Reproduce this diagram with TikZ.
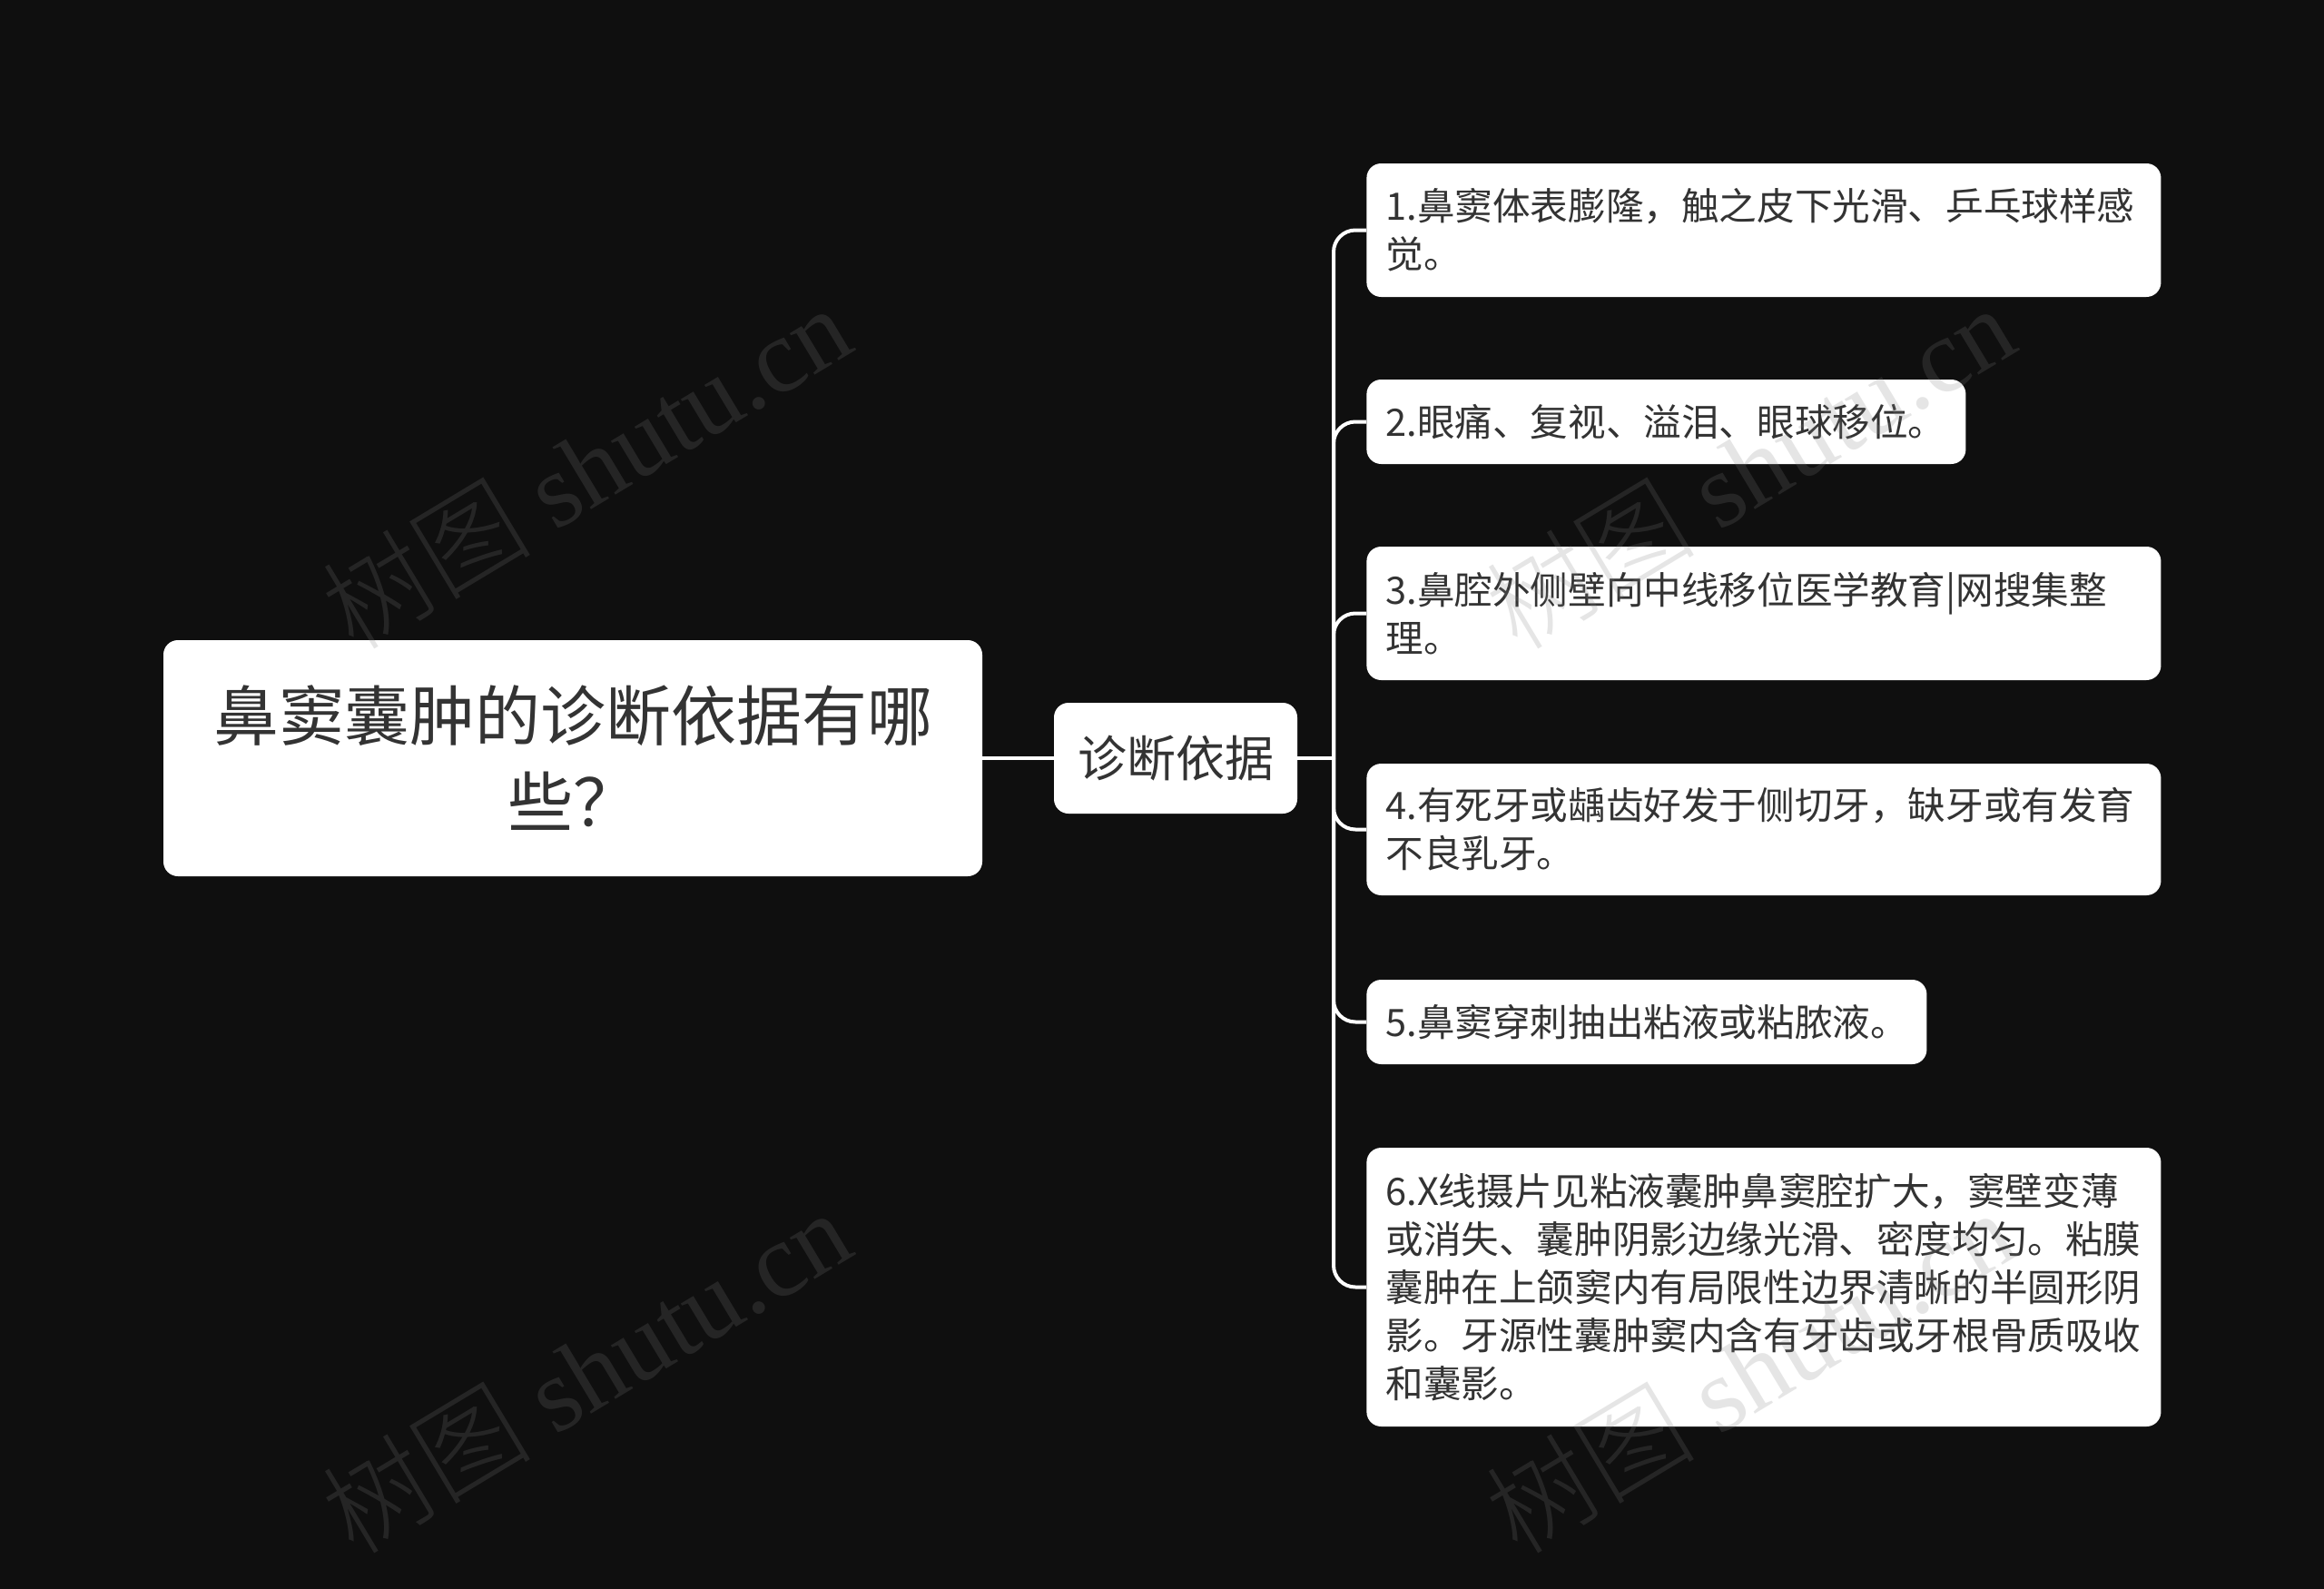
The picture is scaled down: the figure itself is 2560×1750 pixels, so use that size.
\documentclass[tikz,border=0pt]{standalone}
\usepackage{fontspec}
\setmainfont{Noto Sans CJK SC}
\newfontfamily\wmserif{Liberation Serif}
\newfontfamily\wmcjk{Noto Sans CJK SC Light}
\definecolor{bgc}{HTML}{0F0F0F}
\definecolor{txt}{HTML}{333333}
\tikzset{
  leafbox/.style={fill=white, rounded corners=8pt, text=txt,
    font=\fontsize{20.8}{26.5}\selectfont, align=left,
    inner xsep=10.5pt, inner ysep=0pt, anchor=west},
  rootbox/.style={fill=white, rounded corners=8pt, text=txt,
    font=\fontsize{36}{47.5}\selectfont, align=center, inner sep=0pt},
  midbox/.style={fill=white, rounded corners=8pt, text=txt,
    font=\fontsize{27}{32}\selectfont, align=center, inner sep=0pt},
  conn/.style={draw=white, line width=2pt},
  wm/.style={text=gray, text opacity=0.2, font=\fontsize{58}{60}\selectfont, rotate=31}
}
\begin{document}
\begin{tikzpicture}[x=0.5pt,y=-0.5pt]
\fill[bgc] (0,0) rectangle (2560,1750);
\useasboundingbox (0,0) rectangle (2560,1750);

\node[rootbox, minimum width=451pt, minimum height=130pt] (root) at (631,835) {鼻窦囊肿的诊断依据有哪\\些？};
\node[midbox, minimum width=134pt, minimum height=61pt] (mid) at (1295,835) {诊断依据};

\node[leafbox, text width=416.5pt, minimum height=73.5pt] (l1) at (1505,253.5) {1.鼻窦体表膨隆，触之皮下光滑、乒乓球样感\\觉。};
\node[leafbox, text width=309pt, minimum height=46.5pt] (l2) at (1505,464.5) {2.眼痛、复视、溢泪、眼球移位。};
\node[leafbox, text width=416.5pt, minimum height=73.5pt] (l3) at (1505,675.5) {3.鼻腔外侧壁向中线移位医学教育|网搜集整\\理。};
\node[leafbox, text width=416.5pt, minimum height=72.5pt] (l4) at (1505,913.5) {4.有死牙或龋齿好发于侧切牙，缺牙或有发育\\不良乳牙。};
\node[leafbox, text width=287.5pt, minimum height=46.5pt] (l5) at (1505,1125.5) {5.鼻窦穿刺抽出粘液或粘脓液。};
\node[leafbox, text width=416.5pt, minimum height=153.5pt] (l6) at (1505,1417.5) {6.X线摄片见粘液囊肿鼻窦腔扩大，窦壁变薄\\或消失、囊肿阴影边缘光滑、密度均匀。粘膜\\囊肿在上颌窦内有局限性边界清晰的半圆形阴\\影。牙源性囊肿窦内含有牙齿或牙根骨质吸收\\和囊影。};

\coordinate (j) at (1469,835);
\draw[conn] (root.east) -- (mid.west);
\draw[conn] (mid.east) -- (j);
\foreach \l in {l1,l2,l3,l4,l5,l6}{
  \draw[conn, rounded corners=12pt] (j) |- (\l.west);
}

\node[wm] (w1) at (645,514) {\wmcjk 树图 \wmserif shutu.cn};
\node[wm] (w2) at (1927,514) {\wmcjk 树图 \wmserif shutu.cn};
\node[wm] (w3) at (645,1510) {\wmcjk 树图 \wmserif shutu.cn};
\node[wm] (w4) at (1927,1510) {\wmcjk 树图 \wmserif shutu.cn};
\end{tikzpicture}
\end{document}
